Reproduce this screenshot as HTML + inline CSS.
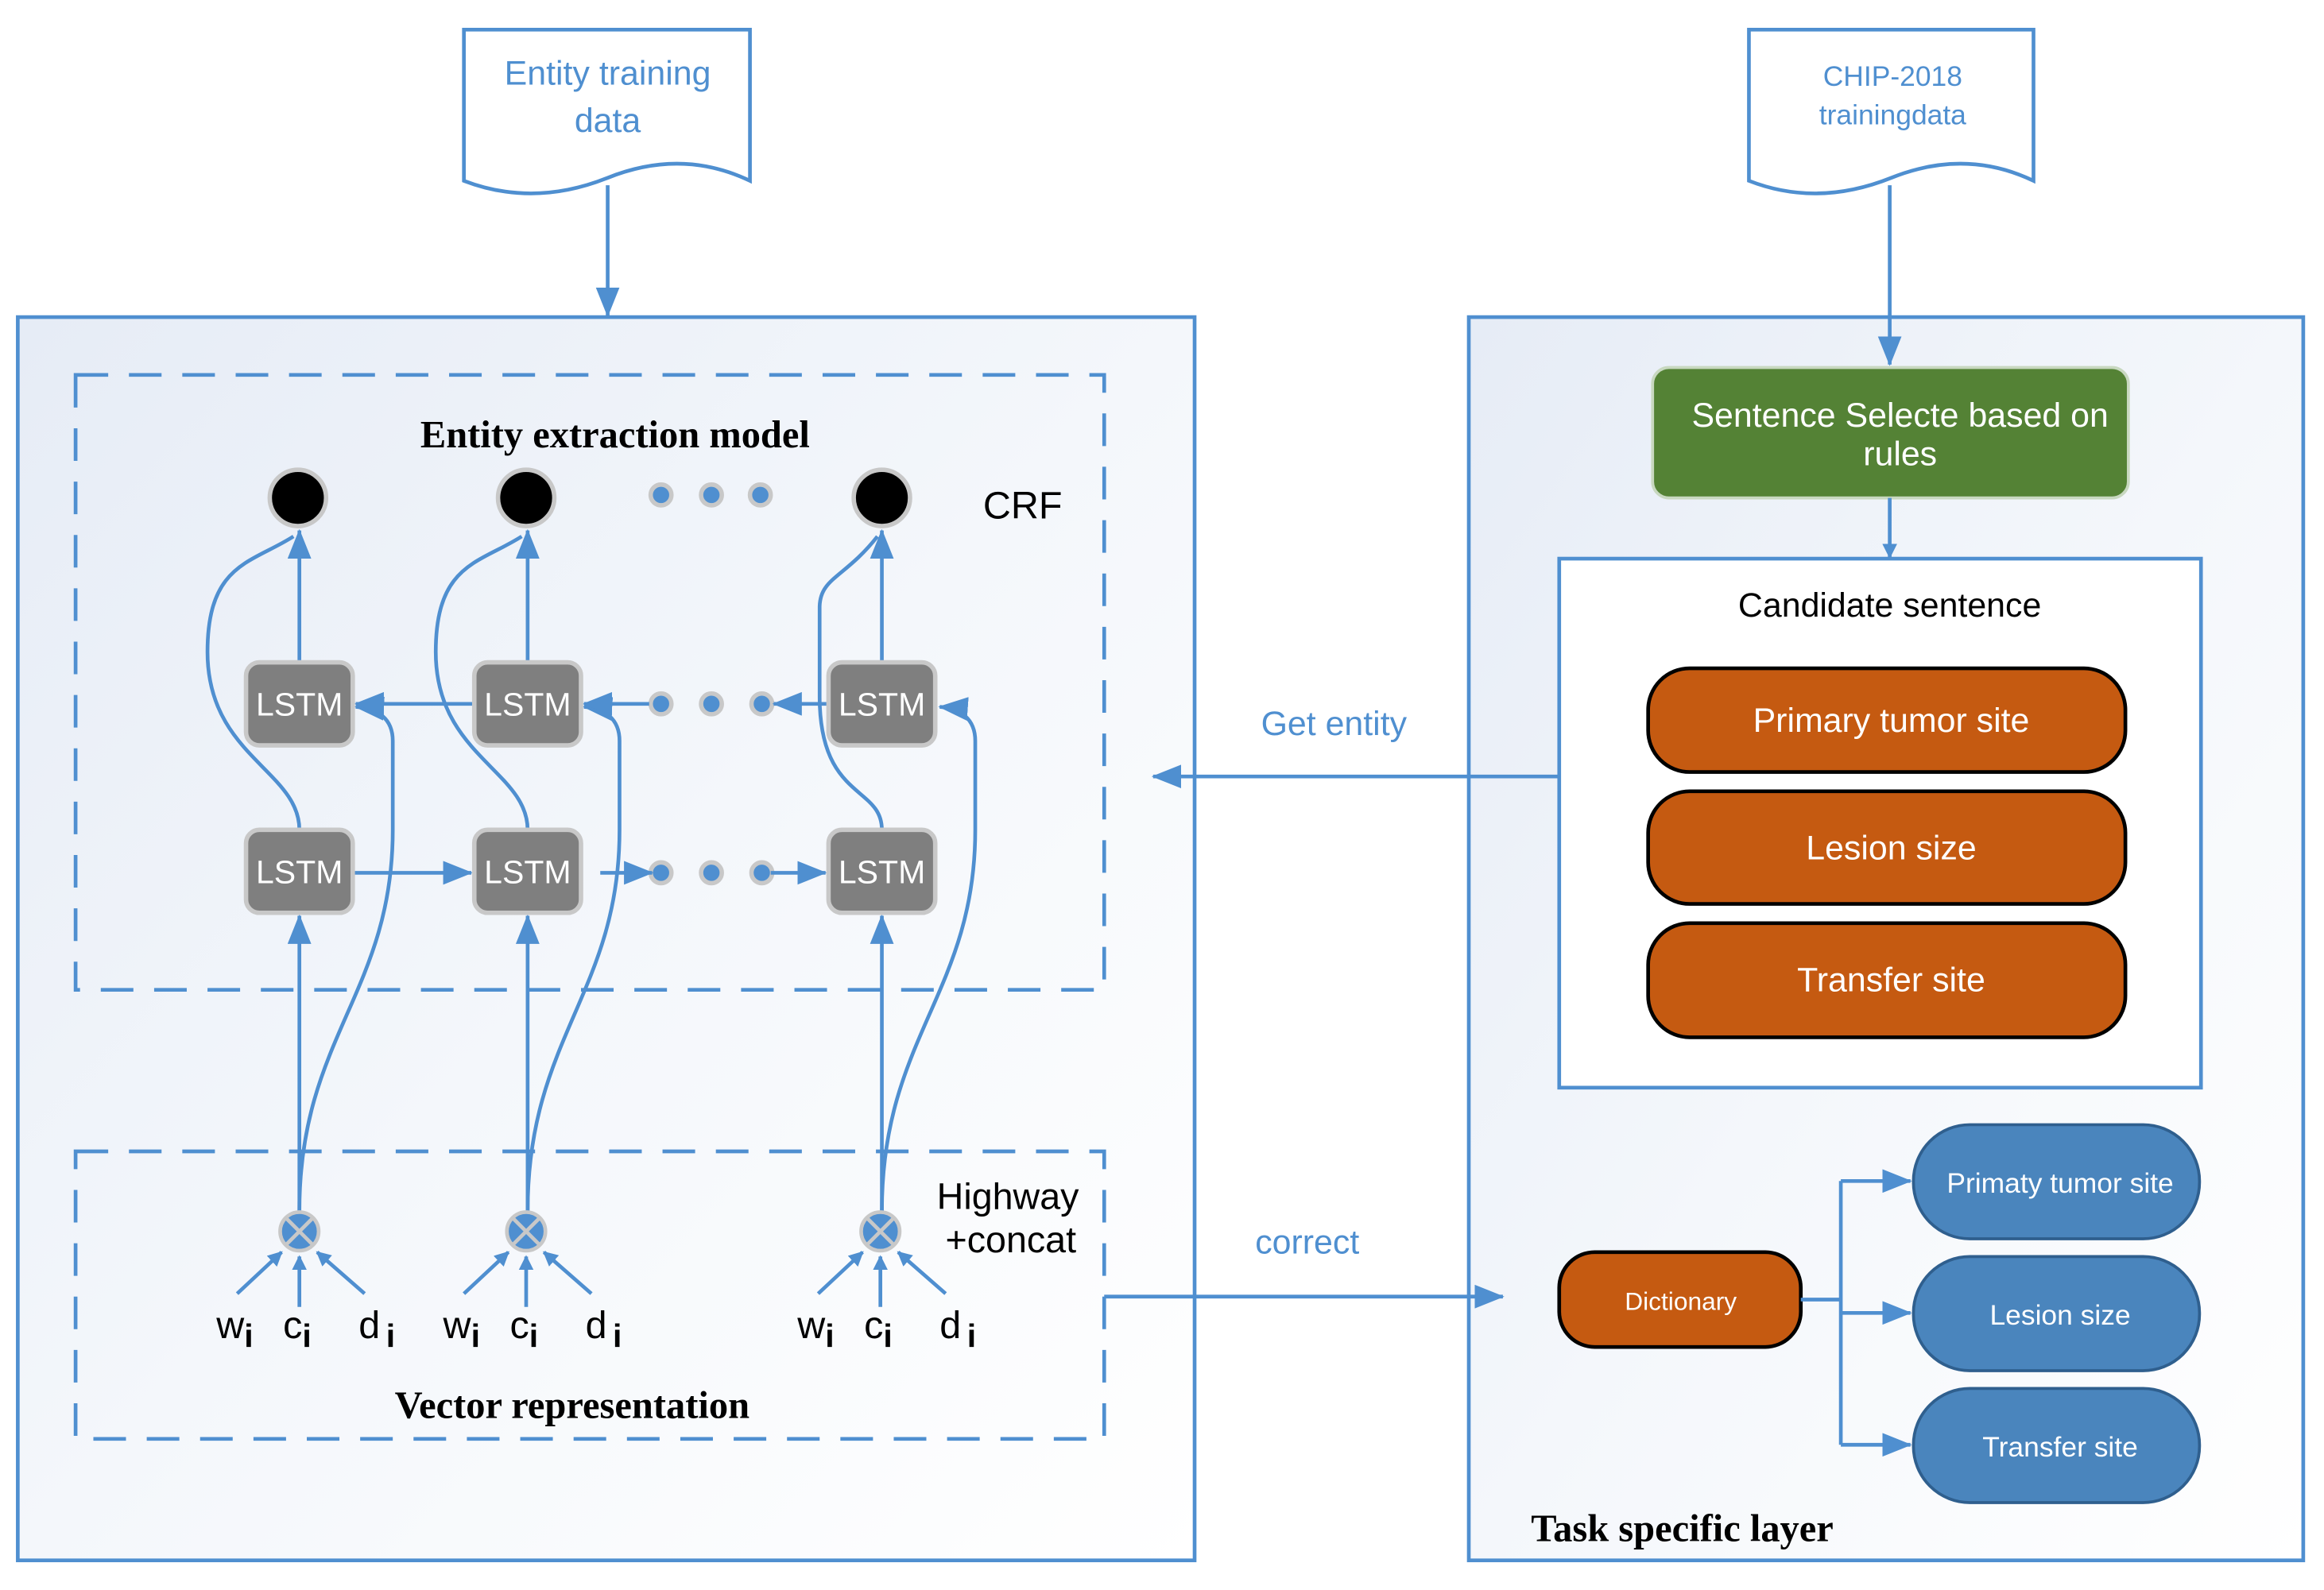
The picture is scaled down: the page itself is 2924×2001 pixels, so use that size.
<!DOCTYPE html>
<html><head><style>html,body{margin:0;padding:0;background:#fff}svg{display:block}</style></head>
<body>
<svg width="2924" height="2001" viewBox="0 0 1568 1073" preserveAspectRatio="none" xmlns="http://www.w3.org/2000/svg">
<defs>
<linearGradient id="g" x1="0" y1="0" x2="1" y2="1"><stop offset="0" stop-color="#e6ecf6"/><stop offset="0.5" stop-color="#f4f7fb"/><stop offset="1" stop-color="#ffffff"/></linearGradient>
<marker id="a" markerWidth="10" markerHeight="10" refX="9" refY="5" orient="auto" markerUnits="userSpaceOnUse"><path d="M0,0 L10,5 L0,10 Z" fill="#4f8fd0"/></marker>
<marker id="b" markerWidth="20" markerHeight="16" refX="19" refY="8" orient="auto" markerUnits="userSpaceOnUse"><path d="M0,0 L20,8 L0,16 Z" fill="#4f8fd0"/></marker>
</defs>
<style>
text{font-family:"Liberation Sans",sans-serif}
.s{font-family:"Liberation Serif",serif;font-weight:bold;font-size:26px;fill:#000}
.l{stroke:#4f8fd0;stroke-width:2.5;fill:none}
.lst{fill:#7f7f7f;stroke:#c8c8c8;stroke-width:3}
.lt{fill:#fff;font-size:22px}
</style>
<!-- boxes first -->
<rect x="12" y="214" width="794" height="839" fill="url(#g)" stroke="#4f8fd0" stroke-width="2.5"/>
<rect x="991" y="214" width="563" height="839" fill="url(#g)" stroke="#4f8fd0" stroke-width="2.5"/>
<!-- docs -->
<path d="M313,20 H506 V122 Q460,100 410,120 Q360,140 313,122 Z" fill="#fff" stroke="#4f8fd0" stroke-width="2.5"/>
<text x="410" y="57" font-size="23" fill="#4f8fd0" text-anchor="middle">Entity training</text>
<text x="410" y="89" font-size="23" fill="#4f8fd0" text-anchor="middle">data</text>
<path d="M1180,20 H1372 V122 Q1326,100 1276,120 Q1226,140 1180,122 Z" fill="#fff" stroke="#4f8fd0" stroke-width="2.5"/>
<text x="1277" y="58" font-size="19" fill="#4f8fd0" text-anchor="middle">CHIP-2018</text>
<text x="1277" y="84" font-size="19" fill="#4f8fd0" text-anchor="middle">trainingdata</text>
<line x1="410" y1="125" x2="410" y2="213" class="l" marker-end="url(#b)"/>
<line x1="1275" y1="125" x2="1275" y2="246" class="l" marker-end="url(#b)"/>
<rect x="51" y="253" width="694" height="415" fill="none" stroke="#4f8fd0" stroke-width="2.5" stroke-dasharray="22,14"/>
<rect x="51" y="777" width="694" height="194" fill="none" stroke="#4f8fd0" stroke-width="2.5" stroke-dasharray="22,14"/>
<text x="415" y="302" class="s" text-anchor="middle">Entity extraction model</text>
<text x="386" y="957" class="s" text-anchor="middle">Vector representation</text>
<text x="690" y="350" font-size="26" text-anchor="middle">CRF</text>
<text x="680" y="816" font-size="25" text-anchor="middle">Highway</text>
<text x="682" y="845" font-size="25" text-anchor="middle">+concat</text>
<!-- CRF nodes -->
<g fill="#000" stroke="#c8c8c8" stroke-width="3">
<circle cx="201" cy="336" r="19"/><circle cx="355" cy="336" r="19"/><circle cx="595" cy="336" r="19"/></g>
<g fill="none" stroke="#000" stroke-width="1.5"><circle cx="201" cy="336" r="15"/><circle cx="355" cy="336" r="15"/><circle cx="595" cy="336" r="15"/></g>
<g fill="#4f8fd0" stroke="#c8c8c8" stroke-width="3">
<circle cx="446" cy="334" r="7"/><circle cx="480" cy="334" r="7"/><circle cx="513" cy="334" r="7"/>
<circle cx="446" cy="475" r="7"/><circle cx="480" cy="475" r="7"/><circle cx="514" cy="475" r="7"/>
<circle cx="446" cy="589" r="7"/><circle cx="480" cy="589" r="7"/><circle cx="514" cy="589" r="7"/></g>
<!-- connections -->
<g class="l">
<line x1="202" y1="447" x2="202" y2="358" marker-end="url(#b)"/>
<line x1="356" y1="447" x2="356" y2="358" marker-end="url(#b)"/>
<line x1="595" y1="447" x2="595" y2="358" marker-end="url(#b)"/>
<path d="M202,560 C202,520 140,510 140,440 C140,380 170,380 198,362"/>
<path d="M356,560 C356,520 294,510 294,440 C294,380 324,380 352,362"/>
<path d="M595,560 C595,530 553,540 553,470 L553,410 C553,390 570,390 592,362"/>
<line x1="202" y1="817" x2="202" y2="618" marker-end="url(#b)"/>
<line x1="356" y1="817" x2="356" y2="618" marker-end="url(#b)"/>
<line x1="595" y1="817" x2="595" y2="618" marker-end="url(#b)"/>
<path d="M202,817 C202,700 265,670 265,560 L265,500 C265,485 255,478 240,477" marker-end="url(#b)"/>
<path d="M356,817 C356,700 418,670 418,560 L418,500 C418,485 408,478 394,477" marker-end="url(#b)"/>
<path d="M595,817 C595,700 658,670 658,560 L658,500 C658,485 648,478 634,477" marker-end="url(#b)"/>
<line x1="320" y1="475" x2="240" y2="475" marker-end="url(#b)"/>
<line x1="438" y1="475" x2="394" y2="475" marker-end="url(#b)"/>
<line x1="559" y1="475" x2="522" y2="475" marker-end="url(#b)"/>
<line x1="238" y1="589" x2="318" y2="589" marker-end="url(#b)"/>
<line x1="405" y1="589" x2="440" y2="589" marker-end="url(#b)"/>
<line x1="520" y1="589" x2="557" y2="589" marker-end="url(#b)"/>
</g>
<!-- LSTM boxes -->
<g>
<rect x="166" y="447" width="72" height="56" rx="9" class="lst"/><rect x="320" y="447" width="72" height="56" rx="9" class="lst"/><rect x="559" y="447" width="72" height="56" rx="9" class="lst"/>
<rect x="166" y="560" width="72" height="56" rx="9" class="lst"/><rect x="320" y="560" width="72" height="56" rx="9" class="lst"/><rect x="559" y="560" width="72" height="56" rx="9" class="lst"/>
</g>
<g class="lt" text-anchor="middle">
<text x="202" y="483">LSTM</text><text x="356" y="483">LSTM</text><text x="595" y="483">LSTM</text>
<text x="202" y="596">LSTM</text><text x="356" y="596">LSTM</text><text x="595" y="596">LSTM</text>
</g>
<!-- inputs -->
<g id="inp">
<line x1="160" y1="873" x2="190" y2="845" class="l" marker-end="url(#a)"/>
<line x1="202" y1="882" x2="202" y2="848" class="l" marker-end="url(#a)"/>
<line x1="246" y1="873" x2="214" y2="845" class="l" marker-end="url(#a)"/>
<circle cx="202" cy="831" r="13" fill="#4f8fd0" stroke="#c8c8c8" stroke-width="2.5"/>
<path d="M193,822 L211,840 M211,822 L193,840" stroke="#c8c8c8" stroke-width="2.5"/>
<text x="146" y="903" font-size="26">w<tspan font-size="22" font-weight="bold" dy="6">i</tspan></text>
<text x="191" y="903" font-size="26">c<tspan font-size="22" font-weight="bold" dy="6">i</tspan></text>
<text x="242" y="903" font-size="26">d<tspan font-size="22" font-weight="bold" dx="4" dy="6">i</tspan></text>
</g>
<use href="#inp" x="153"/>
<use href="#inp" x="392"/>
<!-- middle connectors -->
<line x1="1052" y1="524" x2="778" y2="524" class="l" marker-end="url(#b)"/>
<text x="900" y="496" font-size="23" fill="#4f8fd0" text-anchor="middle">Get entity</text>
<line x1="745" y1="875" x2="1014" y2="875" class="l" marker-end="url(#b)"/>
<text x="882" y="846" font-size="23" fill="#4f8fd0" text-anchor="middle">correct</text>
<!-- right contents -->
<rect x="1115" y="248" width="321" height="88" rx="11" fill="#548235" stroke="#c8d8c0" stroke-width="2"/>
<text x="1282" y="288" font-size="23" fill="#fff" text-anchor="middle">Sentence Selecte based on</text>
<text x="1282" y="314" font-size="23" fill="#fff" text-anchor="middle">rules</text>
<line x1="1275" y1="336" x2="1275" y2="376" class="l" marker-end="url(#a)"/>
<rect x="1052" y="377" width="433" height="357" fill="#fff" stroke="#4f8fd0" stroke-width="2.5"/>
<text x="1275" y="416" font-size="23" text-anchor="middle">Candidate sentence</text>
<g fill="#c55a11" stroke="#000" stroke-width="2.5">
<rect x="1112" y="451" width="322" height="70" rx="28"/><rect x="1112" y="534" width="322" height="76" rx="28"/><rect x="1112" y="623" width="322" height="77" rx="28"/>
<rect x="1052" y="845" width="163" height="64" rx="24"/></g>
<g fill="#fff" font-size="23" text-anchor="middle">
<text x="1276" y="494">Primary tumor site</text><text x="1276" y="580">Lesion size</text><text x="1276" y="669">Transfer site</text></g>
<text x="1134" y="884" font-size="17" fill="#fff" text-anchor="middle">Dictionary</text>
<g class="l"><line x1="1215" y1="877" x2="1242" y2="877"/><line x1="1242" y1="797" x2="1242" y2="975"/>
<line x1="1242" y1="797" x2="1289" y2="797" marker-end="url(#b)"/>
<line x1="1242" y1="886" x2="1289" y2="886" marker-end="url(#b)"/>
<line x1="1242" y1="975" x2="1289" y2="975" marker-end="url(#b)"/></g>
<g fill="#4a85bd" stroke="#2f5f8e" stroke-width="2">
<rect x="1291" y="759" width="193" height="77" rx="38"/><rect x="1291" y="848" width="193" height="77" rx="38"/><rect x="1291" y="937" width="193" height="77" rx="38"/></g>
<g fill="#fff" font-size="19" text-anchor="middle">
<text x="1390" y="805">Primaty tumor site</text><text x="1390" y="894">Lesion size</text><text x="1390" y="983">Transfer site</text></g>
<text x="1135" y="1040" class="s" text-anchor="middle">Task specific layer</text>
</svg>
</body></html>
